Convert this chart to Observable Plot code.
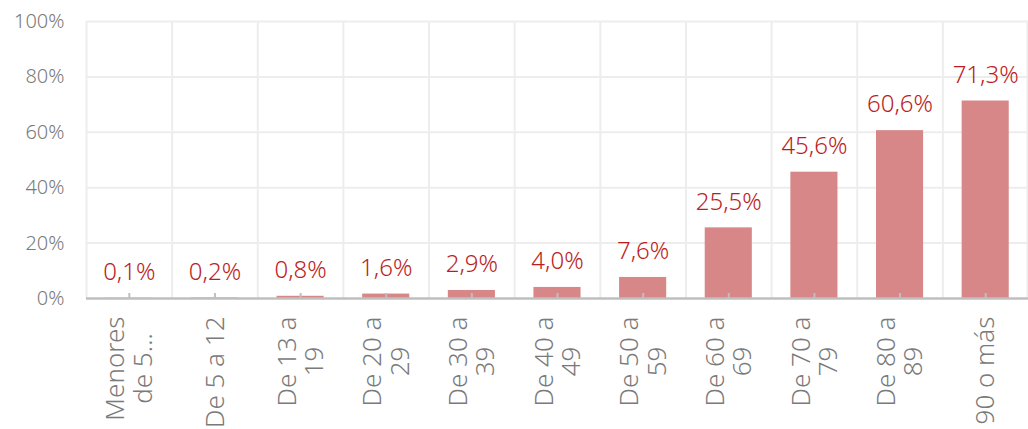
<!DOCTYPE html>
<html>
<head>
<meta charset="utf-8">
<script src="https://cdn.jsdelivr.net/npm/d3@7"></script>
<script src="https://cdn.jsdelivr.net/npm/@observablehq/plot@0.6"></script>
<style>
  html, body { margin: 0; padding: 0; background: #fff; }
  #chart svg { display: block; }
</style>
</head>
<body>
<div id="chart"></div>
<script>
const categories = ["Menores de 5…", "De 5 a 12", "De 13 a 19", "De 20 a 29", "De 30 a 39", "De 40 a 49", "De 50 a 59", "De 60 a 69", "De 70 a 79", "De 80 a 89", "90 o más"];
const tickLabels = ["Menores\nde 5…", "De 5 a 12", "De 13 a\n19", "De 20 a\n29", "De 30 a\n39", "De 40 a\n49", "De 50 a\n59", "De 60 a\n69", "De 70 a\n79", "De 80 a\n89", "90 o más"];
const values = [0.1, 0.2, 0.8, 1.6, 2.9, 4.0, 7.6, 25.5, 45.6, 60.6, 71.3];
const yTicks = [0, 20, 40, 60, 80, 100];

const data = categories.map((c, i) => ({cat: c, label: tickLabels[i], value: values[i]}));
const fmt = v => v.toFixed(1).replace(".", ",") + "%";

const W = 1028, H = 429, ML = 86, MR = 0, MT = 21, MB = 131;
const step = (W - ML - MR) / categories.length;
const font = "'Noto Sans', sans-serif";

const chart = Plot.plot({
  width: W,
  height: H,
  marginLeft: ML,
  marginRight: MR,
  marginTop: MT,
  marginBottom: MB,
  style: {fontFamily: font, fontWeight: 300, background: "#fff", overflow: "visible"},
  x: {type: "band", domain: categories, paddingInner: 0.45, paddingOuter: 0.225, round: false, axis: null, label: null},
  y: {domain: [0, 100], axis: null, label: null},
  marks: [
    Plot.ruleY(yTicks.filter(d => d > 0), {stroke: "#ededed", strokeWidth: 2}),
    Plot.ruleX(categories, {x: d => d, dx: -step / 2, stroke: "#ededed", strokeWidth: 2}),
    Plot.ruleX(categories.slice(-1), {x: d => d, dx: step / 2 - 1, stroke: "#ededed", strokeWidth: 2}),
    Plot.barY(data, {x: "cat", y: "value", fill: "#d78787"}),
    Plot.ruleY([0], {stroke: "#bfbfbf", strokeWidth: 2.5}),
    Plot.axisX({anchor: "bottom", label: null, tickSize: -5, stroke: "#bfbfbf", strokeWidth: 2, tickFormat: () => ""}),
    Plot.axisY(yTicks, {anchor: "left", label: null, tickSize: 0, tickPadding: 22, tickFormat: d => d + "%", fontSize: 20, fill: "#7a7a7a"}),
    Plot.text(data, {x: "cat", y: "value", text: d => fmt(d.value), dy: -26, lineAnchor: "middle", fontSize: 24, fill: "#bb1d23"}),
    Plot.text(data, {x: "cat", text: "label", frameAnchor: "bottom", rotate: -90, textAnchor: "end", lineAnchor: "middle", dy: 18, fontSize: 26, fill: "#7a7a7a", lineHeight: 1.05, className: "xlab"})
  ]
});

document.getElementById("chart").appendChild(chart);

// center the lines of multi-line labels within their block (block starts at axis)
d3.select(chart).selectAll(".xlab text").each(function() {
  const tspans = this.querySelectorAll("tspan");
  if (tspans.length > 1) {
    let L = 0;
    tspans.forEach(t => { L = Math.max(L, t.getComputedTextLength()); });
    this.setAttribute("text-anchor", "middle");
    tspans.forEach(t => t.setAttribute("x", -L / 2));
  }
});
</script>
</body>
</html>
